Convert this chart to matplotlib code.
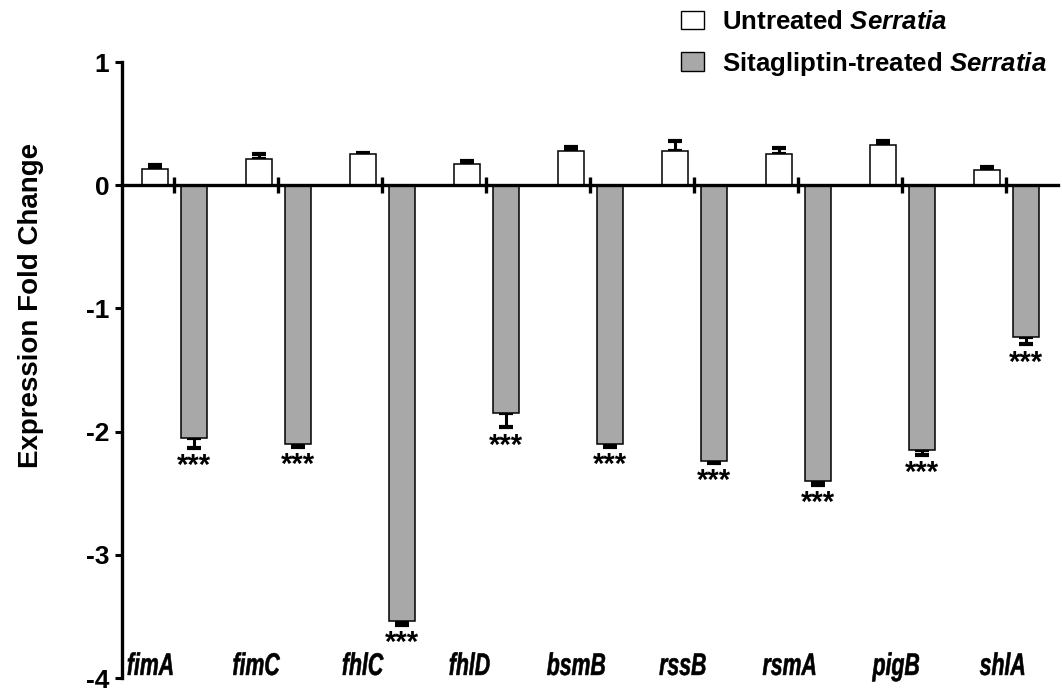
import numpy as np
import matplotlib
matplotlib.use("Agg")
import matplotlib.pyplot as plt
from matplotlib.patches import Patch, PathPatch
from matplotlib.textpath import TextPath
from matplotlib.font_manager import FontProperties
from matplotlib.transforms import Affine2D, ScaledTranslation

# ---------------- data ----------------
genes = ['fimA', 'fimC', 'fhlC', 'fhlD', 'bsmB', 'rssB', 'rsmA', 'pigB', 'shlA']
untreated = [0.13, 0.21, 0.25, 0.17, 0.28, 0.28, 0.25, 0.33, 0.12]
untreated_err = [0.03, 0.045, 0.015, 0.025, 0.027, 0.08, 0.05, 0.03, 0.03]
treated = [-2.05, -2.10, -3.54, -1.845, -2.10, -2.235, -2.405, -2.15, -1.23]
treated_err = [0.08, 0.025, 0.03, 0.12, 0.025, 0.02, 0.025, 0.04, 0.06]
significance = ['***'] * 9
yticks = [1, 0, -1, -2, -3, -4]
legend_labels = [r'Untreated $\mathit{Serratia}$',
                 r'Sitagliptin-treated $\mathit{Serratia}$']
ylabel = 'Expression Fold Change'

# ---------------- style ----------------
plt.rcParams['font.family'] = ['Liberation Sans', 'DejaVu Sans']
plt.rcParams['mathtext.fontset'] = 'custom'
plt.rcParams['mathtext.it'] = 'Liberation Sans:italic:bold'
plt.rcParams['mathtext.rm'] = 'Liberation Sans:bold'
plt.rcParams['mathtext.bf'] = 'Liberation Sans:bold'

W, H = 1062, 692
fig = plt.figure(figsize=(W / 100, H / 100), dpi=100)
ax = fig.add_axes([122 / W, 14 / H, 936 / W, 616 / H])

n = len(genes)
x = np.arange(n)
bw = 0.25
off = 0.1875
gray = '#a8a8a8'

ax.bar(x - off, untreated, width=bw, color='white', edgecolor='black',
       linewidth=1.1, zorder=3)
ax.bar(x + off, treated, width=bw, color=gray, edgecolor='black',
       linewidth=1.1, zorder=3)

ax.errorbar(x - off, untreated, yerr=[np.zeros(n), untreated_err], fmt='none',
            ecolor='black', elinewidth=2.2, capsize=5.2, capthick=3.0, zorder=2)
ax.errorbar(x + off, treated, yerr=[treated_err, np.zeros(n)], fmt='none',
            ecolor='black', elinewidth=2.2, capsize=5.2, capthick=3.0, zorder=2)

for xi, v, e, s in zip(x, treated, treated_err, significance):
    ax.text(xi + off, v - e - 0.035, s, ha='center', va='top',
            fontsize=21, fontweight='bold', zorder=4)

ax.set_xlim(-0.5, 8.5)
ax.set_ylim(-4, 1)

ax.spines['top'].set_visible(False)
ax.spines['right'].set_visible(False)
ax.spines['bottom'].set_position(('data', 0))
ax.spines['bottom'].set_linewidth(2.4)
ax.spines['left'].set_linewidth(2.4)
ax.spines['bottom'].set_zorder(5)

ax.set_yticks(yticks)
ax.set_yticklabels([str(t) for t in yticks])
ax.tick_params(axis='y', direction='out', length=5, width=2.2, pad=4,
               labelsize=19)
for lab in ax.get_yticklabels():
    lab.set_fontweight('bold')

ax.set_xticks(x)
ax.set_xticklabels([])
ax.tick_params(axis='x', direction='inout', length=11, width=2.4)

# condensed bold-italic gene labels
fp = FontProperties(family='Liberation Sans', weight='bold', style='italic')
label_pos = np.arange(n) * 1.024 - 0.23
for xp, g in zip(label_pos, genes):
    tp = TextPath((0, 0), g, size=22.5, prop=fp)
    ext = tp.get_extents()
    cx = (ext.x0 + ext.x1) / 2
    tr = (Affine2D().translate(-cx, 0).scale(0.68 / 72, 1 / 72)
          + fig.dpi_scale_trans
          + ScaledTranslation(xp, -3.975, ax.transData))
    patch = PathPatch(tp, transform=tr, facecolor='black', edgecolor='black',
                      linewidth=0.4, clip_on=False)
    ax.add_artist(patch)

fig.text(31 / W, 1 - 305.5 / H, ylabel, rotation=90, ha='center', va='center',
         fontsize=20, fontweight='bold')

handles = [Patch(facecolor='white', edgecolor='black', linewidth=1.0),
           Patch(facecolor=gray, edgecolor='black', linewidth=1.0)]
leg = fig.legend(handles, legend_labels, loc='upper left',
                 bbox_to_anchor=(681 / W, 1 - 10 / H), frameon=False,
                 fontsize=18.6, handlelength=0.9, handleheight=0.7,
                 handletextpad=0.68, labelspacing=0.6, borderpad=0,
                 borderaxespad=0)
for t in leg.get_texts():
    t.set_fontweight('bold')

fig.savefig('out.png', dpi=100)
